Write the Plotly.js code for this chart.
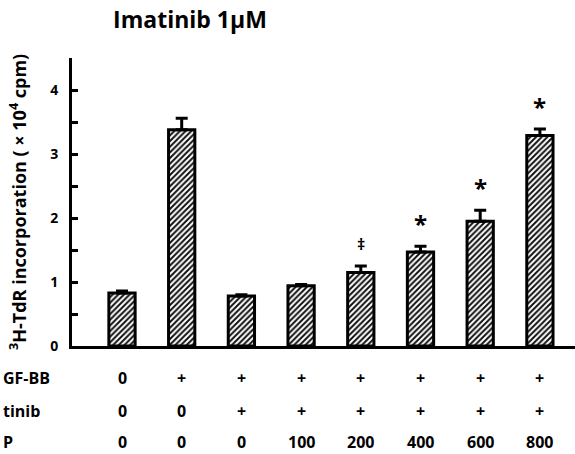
<!DOCTYPE html>
<html>
<head>
<meta charset="utf-8">
<script src="https://cdn.plot.ly/plotly-3.0.1.min.js"></script>
<style>html,body{margin:0;padding:0;background:#fff;}#chart{width:575px;height:454px;}</style>
</head>
<body>
<div id="chart"></div>
<script>
// Data
var groups = [0, 1, 2, 3, 4, 5, 6, 7];
var values = [0.83, 3.38, 0.78, 0.94, 1.15, 1.47, 1.95, 3.29];
var errors = [0.03, 0.18, 0.02, 0.02, 0.10, 0.09, 0.17, 0.10];
var signif = ['', '', '', '', '\u2021', '*', '*', '*'];
var rowNames = ['GF-BB', 'tinib', 'P'];
var rowPDGF = ['0', '+', '+', '+', '+', '+', '+', '+'];
var rowImatinib = ['0', '0', '+', '+', '+', '+', '+', '+'];
var rowDose = ['0', '0', '0', '100', '200', '400', '600', '800'];
var yTickVals = [0, 0.5, 1, 1.5, 2, 2.5, 3, 3.5, 4];
var yTickText = ['0', '', '1', '', '2', '', '3', '', '4'];

var FONT = '"Open Sans", "Liberation Sans", Arial, sans-serif';

var trace = {
  type: 'bar',
  x: groups,
  y: values,
  width: 0.44,
  marker: {
    color: 'white',
    line: {color: 'black', width: 3},
    pattern: {shape: '/', fgcolor: '#111', bgcolor: 'white', size: 4, solidity: 0.5}
  },
  error_y: {
    type: 'data',
    symmetric: false,
    array: errors,
    arrayminus: errors.map(function(){return 0;}),
    color: 'black',
    thickness: 3,
    width: 6
  },
  hoverinfo: 'none'
};

var annotations = [];
// significance markers
groups.forEach(function(g, i){
  if (signif[i]) {
    annotations.push({
      x: g, y: values[i] + errors[i] + 0.35, xref: 'x', yref: 'y',
      text: '<b>' + signif[i] + '</b>', showarrow: false,
      xanchor: 'center', yanchor: 'middle',
      font: {family: FONT, size: signif[i] === '*' ? 24 : 16, color: 'black'}
    });
  }
});
// table under the axis
var rows = [rowPDGF, rowImatinib, rowDose];
var rowY = [-0.111, -0.226, -0.334];
rows.forEach(function(row, r){
  row.forEach(function(t, i){
    annotations.push({
      x: groups[i], y: rowY[r], xref: 'x', yref: 'paper',
      text: '<b>' + t + '</b>', showarrow: false,
      xanchor: 'center', yanchor: 'middle',
      font: {family: FONT, size: 16, color: 'black'}
    });
  });
  annotations.push({
    x: (1 - 72) / 503, y: rowY[r], xref: 'paper', yref: 'paper',
    text: '<b>' + rowNames[r] + '</b>', showarrow: false,
    xanchor: 'left', yanchor: 'middle',
    font: {family: FONT, size: 16, color: 'black'}
  });
});
// y-axis title (drawn as a rotated annotation so it can sit close to the edge)
annotations.push({
  x: (18 - 72) / 503, y: 0.5, xref: 'paper', yref: 'paper',
  text: '<b><sup>3</sup>H-TdR incorporation ( \u00d7 10<sup>4</sup> cpm)</b>',
  textangle: -90, showarrow: false, xanchor: 'center', yanchor: 'middle',
  font: {family: FONT, size: 18, color: 'black'}
});

var layout = {
  width: 575, height: 454,
  margin: {l: 72, r: 0, t: 58, b: 108, pad: 0},
  paper_bgcolor: 'white', plot_bgcolor: 'white',
  showlegend: false,
  title: {
    text: '<b>Imatinib 1\u03bcM</b>',
    x: 190/575, xref: 'container', xanchor: 'center',
    y: 1 - 20/454, yref: 'container', yanchor: 'middle',
    font: {family: FONT, size: 23, color: 'black'}
  },
  xaxis: {
    range: [-0.8375, 7.588],
    showticklabels: false, ticks: '', showgrid: false, zeroline: false,
    showline: true, linecolor: 'black', linewidth: 3, fixedrange: true
  },
  yaxis: {
    range: [0, 4.5],
    tickmode: 'array', tickvals: yTickVals, ticktext: yTickText,
    ticks: 'inside', ticklen: 6, tickwidth: 3, tickcolor: 'black',
    showgrid: false, zeroline: false,
    showline: true, linecolor: 'black', linewidth: 3,
    ticklabelstandoff: 8,
    tickfont: {family: FONT, size: 14, color: 'black', weight: 'bold'},
    fixedrange: true
  },
  annotations: annotations
};

Plotly.newPlot('chart', [trace], layout, {displayModeBar: false, staticPlot: true});
</script>
</body>
</html>
